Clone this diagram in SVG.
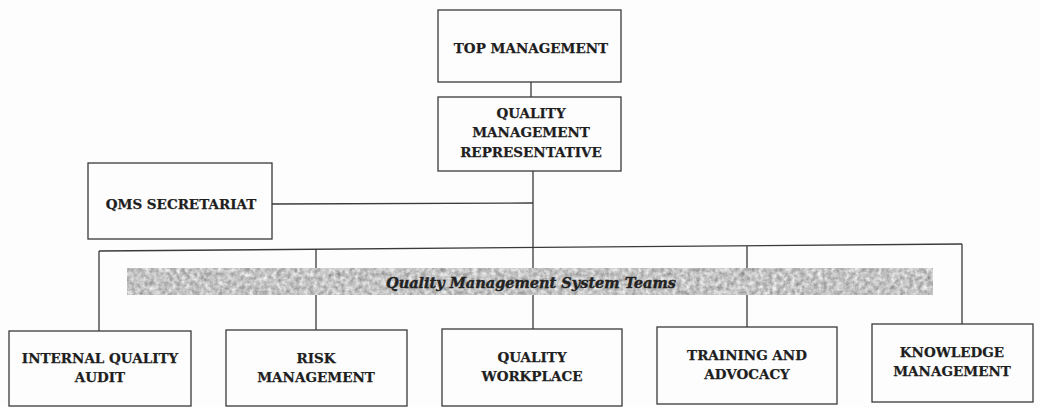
<svg xmlns="http://www.w3.org/2000/svg" width="1040" height="407" viewBox="0 0 1040 407">
<style>
.box{fill:#fdfdfd;stroke:#3a3a3a;stroke-width:1.3}
.ln{fill:none;stroke:#3a3a3a;stroke-width:1.3}
.t{font-family:"DejaVu Serif","Liberation Serif",serif;font-weight:bold;font-size:13.5px;fill:#1e1e1e;stroke:#1e1e1e;stroke-width:0.25;text-anchor:middle}
.bt{font-family:"DejaVu Serif","Liberation Serif",serif;font-weight:bold;font-style:italic;font-size:14.5px;fill:#222;stroke:#222;stroke-width:0.4;text-anchor:middle}
</style>
<defs>
<filter id="grain" x="0" y="0" width="1" height="1" color-interpolation-filters="sRGB">
<feTurbulence type="fractalNoise" baseFrequency="0.22" numOctaves="3" seed="5" result="n"/>
<feColorMatrix in="n" type="saturate" values="0" result="g"/>
<feComponentTransfer in="g" result="m">
<feFuncR type="linear" slope="0.7" intercept="0.42"/>
<feFuncG type="linear" slope="0.7" intercept="0.42"/>
<feFuncB type="linear" slope="0.7" intercept="0.42"/>
<feFuncA type="linear" slope="0" intercept="1"/>
</feComponentTransfer>
<feComposite in="m" in2="SourceGraphic" operator="in"/>
</filter>
</defs>
<rect width="1040" height="407" fill="#fdfdfd"/>
<g id="connectors">
<line class="ln" x1="531" y1="82" x2="531" y2="97"/>
<line class="ln" x1="533" y1="171" x2="533" y2="247"/>
<line class="ln" x1="272" y1="204" x2="533" y2="203"/>
<line class="ln" x1="99" y1="251" x2="962" y2="244"/>
<line class="ln" x1="99" y1="251" x2="99" y2="331"/>
<line class="ln" x1="316" y1="249" x2="316" y2="330"/>
<line class="ln" x1="533" y1="247" x2="533" y2="329"/>
<line class="ln" x1="747" y1="246" x2="747" y2="327"/>
<line class="ln" x1="962" y1="244" x2="962" y2="324"/>
</g>
<g id="band">
<rect x="127" y="268" width="806" height="27" fill="#c0c0c0" filter="url(#grain)"/>
<text class="bt" x="531" y="288">Quality Management System Teams</text>
</g>
<g id="top-management">
<rect class="box" x="438" y="10" width="183" height="72"/>
<text class="t" x="531" y="53">TOP MANAGEMENT</text>
</g>
<g id="qmr">
<rect class="box" x="438" y="97" width="183" height="74"/>
<text class="t" x="531" y="118">QUALITY</text>
<text class="t" x="531" y="137">MANAGEMENT</text>
<text class="t" x="531" y="157">REPRESENTATIVE</text>
</g>
<g id="qms-secretariat">
<rect class="box" x="88" y="163" width="184" height="76"/>
<text class="t" x="181" y="209">QMS SECRETARIAT</text>
</g>
<g id="internal-quality-audit">
<rect class="box" x="9" y="331" width="182" height="75"/>
<text class="t" x="100" y="363">INTERNAL QUALITY</text>
<text class="t" x="100" y="382">AUDIT</text>
</g>
<g id="risk-management">
<rect class="box" x="226" y="330" width="181" height="76"/>
<text class="t" x="316" y="363">RISK</text>
<text class="t" x="316" y="382">MANAGEMENT</text>
</g>
<g id="quality-workplace">
<rect class="box" x="442" y="329" width="180" height="77"/>
<text class="t" x="532" y="362">QUALITY</text>
<text class="t" x="532" y="381">WORKPLACE</text>
</g>
<g id="training-advocacy">
<rect class="box" x="657" y="327" width="180" height="77"/>
<text class="t" x="747" y="360">TRAINING AND</text>
<text class="t" x="747" y="379">ADVOCACY</text>
</g>
<g id="knowledge-management">
<rect class="box" x="872" y="324" width="161" height="78"/>
<text class="t" x="952" y="357">KNOWLEDGE</text>
<text class="t" x="952" y="376">MANAGEMENT</text>
</g>
</svg>
